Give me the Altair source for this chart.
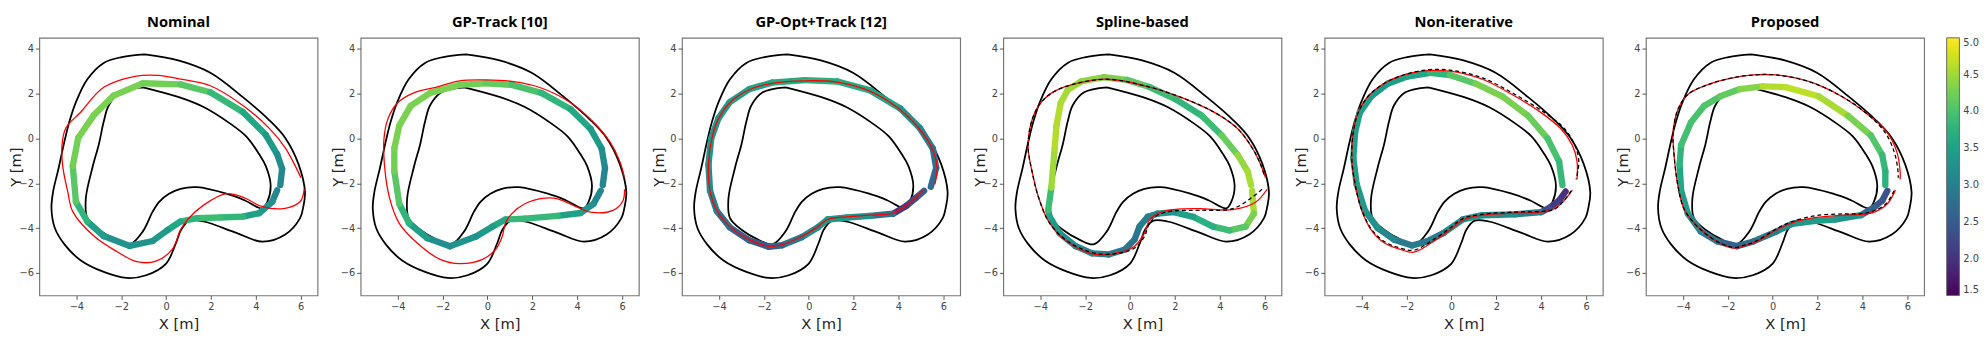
import altair as alt
import pandas as pd

TITLES = ["Nominal", "GP-Track [10]", "GP-Opt+Track [12]", "Spline-based", "Non-iterative", "Proposed"]

# ---- track boundaries (shared by all panels) ----
OUTER_X = [-0.95, 0.54, 1.97, 3.42, 4.59, 5.31, 5.90, 6.19, 6.11, 5.97, 5.31, 4.29, 3.13, 1.67, 1.02, 0.66, 0.44, -0.01, -0.89, -1.76, -2.78, -3.80, -4.53, -4.96, -5.11, -5.04, -4.79, -4.53, -4.31, -4.02, -3.51, -2.78, -1.97, -0.95]
OUTER_Y = [3.76, 3.49, 2.94, 1.85, 0.83, 0.03, -1.14, -2.39, -3.06, -3.55, -4.28, -4.60, -4.21, -3.70, -3.67, -4.08, -4.66, -5.59, -6.10, -6.22, -5.95, -5.44, -4.72, -3.99, -3.12, -2.39, -1.31, -0.12, 0.76, 1.63, 2.65, 3.38, 3.64, 3.76]
INNER_X = [-1.03, 0.57, 1.67, 2.84, 3.57, 4.15, 4.44, 4.66, 4.51, 4.29, 3.49, 2.69, 1.38, 0.64, 0.13, -0.31, -0.60, -1.03, -1.62, -2.26, -2.98, -3.51, -3.58, -3.28, -3.00, -2.78, -2.56, -2.05, -1.03]
INNER_Y = [2.29, 1.85, 1.41, 0.68, 0.10, -0.70, -1.22, -2.10, -2.82, -3.11, -2.75, -2.46, -2.17, -2.24, -2.46, -2.82, -3.26, -4.13, -4.72, -4.51, -4.08, -3.55, -2.68, -1.28, -0.26, 0.76, 1.48, 2.07, 2.29]

# ---- Nominal ----
P1_RED_X = [6.16, 5.97, 5.31, 4.29, 3.42, 2.69, 1.67, 0.95, 0.64, 0.28, -0.45, -1.32, -2.20, -3.22, -4.16, -4.38, -4.61, -4.64, -4.47, -3.80, -2.78, -1.32, -0.36, 0.51, 1.97, 3.42, 4.59, 5.31, 5.82, 6.01]
P1_RED_Y = [-2.24, -2.82, -3.11, -3.04, -2.61, -2.46, -2.97, -3.62, -4.08, -4.93, -5.47, -5.49, -5.04, -4.35, -3.26, -2.39, -1.22, -0.29, 0.47, 1.19, 2.29, 2.79, 2.82, 2.68, 2.36, 1.48, 0.47, -0.41, -1.35, -1.75]
P1_TRAJ_X = [4.95, 4.73, 4.15, 3.42, 2.40, 1.38, 0.64, 0.07, -0.60, -1.62, -2.78, -3.51, -4.02, -4.16, -3.92, -3.22, -2.34, -1.03, 0.64, 1.97, 3.42, 4.44, 4.95, 5.17, 5.09]
P1_TRAJ_Y = [-2.31, -2.82, -3.33, -3.48, -3.52, -3.55, -3.70, -4.08, -4.57, -4.79, -4.35, -3.70, -2.82, -1.22, 0.03, 1.05, 1.92, 2.47, 2.42, 2.07, 1.19, 0.17, -0.70, -1.35, -2.07]
P1_TRAJ_V = [3.1, 3.3, 3.5, 3.8, 3.9, 3.8, 3.6, 3.4, 3.3, 3.25, 3.45, 3.8, 4.1, 4.25, 4.3, 4.3, 4.3, 4.25, 4.1, 3.85, 3.6, 3.4, 3.2, 3.1, 3.05]

# ---- GP-Track [10] ----
P2_RED_X = [6.11, 6.04, 5.60, 4.59, 4.00, 3.13, 2.55, 1.67, 1.09, 0.80, 0.66, 0.36, -0.22, -1.24, -2.11, -3.13, -3.93, -4.37, -4.59, -4.61, -4.44, -4.00, -3.28, -2.26, -1.24, -0.07, 1.09, 2.40, 3.71, 4.73, 5.46, 5.90, 6.11]
P2_RED_Y = [-2.26, -2.77, -3.20, -3.28, -3.06, -2.69, -2.66, -2.91, -3.35, -3.78, -4.37, -4.95, -5.39, -5.58, -5.39, -4.66, -3.78, -2.62, -1.16, 0.0, 0.87, 1.60, 2.04, 2.30, 2.58, 2.62, 2.55, 2.26, 1.60, 0.73, -0.15, -1.02, -1.75]
P2_TRAJ_X = [5.05, 4.73, 4.15, 3.13, 1.67, 0.80, 0.22, -0.51, -1.67, -2.69, -3.49, -3.93, -4.15, -4.15, -3.93, -3.42, -2.55, -1.24, -0.07, 1.09, 2.40, 3.71, 4.59, 5.09, 5.24, 5.14]
P2_TRAJ_Y = [-2.33, -2.91, -3.32, -3.45, -3.57, -3.61, -3.93, -4.37, -4.80, -4.44, -3.78, -2.91, -1.46, -0.44, 0.58, 1.46, 2.04, 2.40, 2.47, 2.40, 2.04, 1.31, 0.44, -0.44, -1.31, -2.07]
P2_TRAJ_V = [3.1, 3.3, 3.5, 3.85, 3.85, 3.6, 3.4, 3.3, 3.2, 3.45, 3.8, 4.1, 4.25, 4.3, 4.3, 4.3, 4.3, 4.25, 4.15, 4.0, 3.8, 3.6, 3.4, 3.2, 3.1, 3.05]

# ---- GP-Opt+Track [12] ----
P3_RED_X = [5.07, 4.77, 4.34, 3.76, 2.74, 1.72, 0.84, 0.41, -0.32, -1.19, -1.78, -2.65, -3.52, -4.10, -4.40, -4.47, -4.32, -4.03, -3.52, -2.65, -1.63, -0.17, 1.28, 2.74, 4.05, 4.92, 5.50, 5.72, 5.62]
P3_RED_Y = [-2.30, -2.62, -2.98, -3.32, -3.42, -3.49, -3.61, -3.93, -4.37, -4.73, -4.80, -4.51, -3.93, -3.20, -2.33, -1.16, 0.0, 0.87, 1.60, 2.18, 2.47, 2.58, 2.52, 2.11, 1.31, 0.44, -0.44, -1.31, -2.04]
P3_TRAJ_X = [5.14, 4.77, 4.34, 3.76, 2.74, 1.72, 0.84, 0.41, -0.32, -1.19, -1.78, -2.65, -3.52, -4.10, -4.40, -4.47, -4.35, -4.03, -3.52, -2.65, -1.63, -0.17, 1.28, 2.74, 4.08, 4.95, 5.53, 5.68, 5.44]
P3_TRAJ_Y = [-2.33, -2.65, -3.01, -3.35, -3.45, -3.52, -3.61, -3.96, -4.40, -4.76, -4.83, -4.54, -3.96, -3.23, -2.33, -1.16, 0.0, 0.90, 1.63, 2.21, 2.50, 2.61, 2.55, 2.15, 1.34, 0.47, -0.44, -1.31, -2.15]
P3_TRAJ_V = [2.5, 2.3, 2.1, 2.8, 3.3, 3.4, 3.35, 3.2, 2.9, 2.6, 2.5, 2.6, 2.8, 3.0, 3.2, 3.3, 3.35, 3.4, 3.45, 3.55, 3.65, 3.7, 3.65, 3.55, 3.3, 3.0, 2.8, 2.7, 2.5]

# ---- Spline-based ----
P4_RED_X = [6.11, 5.59, 4.57, 3.11, 1.95, 1.22, 0.86, 0.64, 0.20, -0.52, -1.54, -2.71, -3.58, -4.08, -4.37, -4.54, -4.44, -4.08, -3.49, -2.62, -1.02, 0.87, 2.33, 3.78, 4.80, 5.46, 5.82, 6.04]
P4_RED_Y = [-2.26, -2.84, -3.17, -3.13, -3.17, -3.35, -3.64, -4.22, -4.80, -5.09, -5.17, -4.66, -3.78, -2.62, -1.46, -0.44, 0.58, 1.46, 2.04, 2.40, 2.65, 2.30, 1.82, 1.16, 0.44, -0.44, -1.16, -1.75]
P4_DASH_X = [5.88, 5.44, 4.57, 3.11, 1.95, 1.22, 0.86, 0.64, 0.20, -0.52, -1.54, -2.71, -3.58, -4.08, -4.37, -4.54, -4.44, -4.08, -3.49, -2.62, -1.02, 0.87, 2.33, 3.78, 4.80, 5.46, 5.82, 6.00]
P4_DASH_Y = [-2.26, -2.62, -3.13, -3.20, -3.23, -3.42, -3.78, -4.37, -4.88, -5.12, -5.12, -4.63, -3.78, -2.62, -1.46, -0.44, 0.58, 1.46, 2.04, 2.40, 2.65, 2.30, 1.82, 1.16, 0.44, -0.44, -1.16, -1.72]
P4_TRAJ_X = [5.44, 5.52, 5.15, 4.43, 3.70, 2.82, 1.95, 1.22, 0.79, 0.42, 0.20, -0.23, -0.96, -1.69, -2.42, -3.14, -3.58, -3.65, -3.51, -3.36, -3.28, -3.09, -2.77, -2.18, -1.16, -0.15, 0.87, 2.04, 3.20, 4.08, 4.80, 5.24, 5.39]
P4_TRAJ_Y = [-2.33, -3.35, -3.93, -4.10, -3.93, -3.49, -3.28, -3.35, -3.49, -3.93, -4.51, -4.95, -5.17, -5.12, -4.80, -4.22, -3.49, -3.20, -2.18, -0.44, 0.58, 1.60, 2.18, 2.55, 2.74, 2.62, 2.30, 1.75, 1.02, 0.15, -0.73, -1.46, -2.07]
P4_TRAJ_V = [4.55, 4.3, 4.1, 3.9, 3.7, 3.5, 3.3, 3.1, 3.0, 2.9, 2.85, 2.9, 3.0, 3.1, 3.2, 3.4, 3.6, 3.9, 4.5, 4.6, 4.6, 4.55, 4.5, 4.4, 4.3, 4.1, 3.9, 3.8, 3.9, 4.2, 4.45, 4.55, 4.6]

# ---- Non-iterative ----
P5_RED_X = [5.39, 5.02, 4.59, 4.00, 2.84, 1.38, 0.51, -0.07, -0.80, -1.67, -2.26, -2.98, -3.57, -4.00, -4.29, -4.44, -4.37, -4.15, -3.71, -2.98, -2.11, -1.09, -0.07, 1.38, 2.84, 4.00, 4.88, 5.39, 5.60, 5.60]
P5_RED_Y = [-2.30, -2.77, -3.13, -3.28, -3.32, -3.42, -3.64, -4.08, -4.59, -5.07, -4.95, -4.66, -4.08, -3.20, -2.04, -0.87, 0.29, 1.16, 1.89, 2.47, 2.84, 3.03, 3.01, 2.65, 1.89, 1.16, 0.44, -0.29, -1.02, -1.82]
P5_DASH_X = [5.34, 4.99, 4.56, 4.00, 2.84, 1.38, 0.51, -0.07, -0.80, -1.67, -2.26, -2.98, -3.57, -4.00, -4.29, -4.44, -4.37, -4.15, -3.71, -2.98, -2.11, -1.09, -0.07, 1.38, 2.84, 4.15, 5.02, 5.50, 5.68, 5.56]
P5_DASH_Y = [-2.33, -2.80, -3.17, -3.25, -3.28, -3.38, -3.57, -4.00, -4.51, -4.98, -4.89, -4.60, -4.03, -3.17, -2.04, -0.87, 0.29, 1.16, 1.89, 2.47, 2.85, 3.07, 3.06, 2.71, 1.97, 1.16, 0.47, -0.29, -1.02, -1.82]
P5_TRAJ_X = [5.09, 4.80, 4.37, 4.00, 2.84, 1.38, 0.51, -0.36, -1.09, -1.75, -2.55, -3.28, -3.86, -4.22, -4.37, -4.29, -4.08, -3.57, -2.84, -1.97, -0.95, -0.07, 1.09, 2.26, 3.42, 4.29, 4.80, 4.95]
P5_TRAJ_Y = [-2.36, -2.77, -3.09, -3.28, -3.38, -3.42, -3.61, -4.22, -4.59, -4.77, -4.51, -4.00, -3.20, -2.04, -0.87, 0.29, 1.16, 1.89, 2.45, 2.77, 2.94, 2.84, 2.45, 1.89, 1.02, 0.0, -1.02, -2.07]
P5_TRAJ_V = [2.0, 2.1, 2.3, 3.0, 3.2, 3.25, 3.2, 3.0, 2.9, 2.95, 3.1, 3.25, 3.4, 3.5, 3.5, 3.5, 3.45, 3.4, 3.45, 3.55, 3.8, 4.1, 4.3, 4.3, 4.2, 4.0, 3.85, 3.7]

# ---- Proposed ----
P6_RED_X = [5.47, 5.11, 4.53, 3.93, 3.07, 1.91, 0.87, 0.16, -0.71, -1.30, -1.73, -2.31, -3.19, -3.92, -4.21, -4.42, -4.44, -4.22, -3.78, -2.91, -1.89, -0.87, 0.15, 1.60, 3.06, 4.22, 5.09, 5.53, 5.68, 5.68]
P6_RED_Y = [-2.30, -2.91, -3.28, -3.38, -3.42, -3.52, -3.76, -4.08, -4.59, -4.80, -4.89, -4.69, -4.08, -3.20, -2.18, -0.44, 0.29, 1.31, 1.97, 2.40, 2.69, 2.84, 2.84, 2.55, 1.89, 1.09, 0.29, -0.58, -1.46, -1.82]
P6_DASH_X = [5.41, 5.05, 4.48, 3.93, 3.07, 1.91, 0.87, 0.16, -0.71, -1.30, -1.73, -2.31, -3.19, -3.92, -4.21, -4.42, -4.44, -4.22, -3.78, -2.91, -1.89, -0.87, 0.15, 1.60, 3.06, 4.22, 5.02, 5.41, 5.57, 5.60]
P6_DASH_Y = [-2.33, -2.91, -3.23, -3.35, -3.36, -3.44, -3.70, -4.03, -4.56, -4.77, -4.86, -4.68, -4.08, -3.20, -2.18, -0.44, 0.29, 1.31, 1.97, 2.40, 2.69, 2.84, 2.84, 2.55, 1.89, 1.09, 0.26, -0.58, -1.31, -1.75]
P6_TRAJ_X = [5.11, 4.88, 4.53, 3.93, 2.77, 1.91, 0.87, 0.16, -0.86, -1.59, -2.46, -3.20, -3.78, -4.08, -4.15, -4.08, -3.64, -3.06, -2.33, -1.46, -0.44, 0.58, 2.04, 3.35, 4.37, 4.88, 5.02, 5.02]
P6_TRAJ_Y = [-2.33, -2.77, -3.06, -3.42, -3.61, -3.67, -3.81, -4.15, -4.59, -4.80, -4.59, -4.15, -3.35, -2.33, -1.16, -0.29, 0.73, 1.46, 1.89, 2.21, 2.33, 2.30, 1.89, 1.02, 0.15, -0.73, -1.46, -2.07]
P6_TRAJ_V = [2.4, 2.45, 2.6, 3.3, 3.45, 3.4, 3.25, 2.95, 2.75, 2.6, 2.9, 3.15, 3.45, 3.6, 3.8, 3.95, 4.0, 4.05, 4.15, 4.35, 4.6, 4.65, 4.55, 4.3, 4.05, 3.85, 3.75, 3.7]

PANELS = [
    (P1_RED_X, P1_RED_Y, None, None, P1_TRAJ_X, P1_TRAJ_Y, P1_TRAJ_V),
    (P2_RED_X, P2_RED_Y, None, None, P2_TRAJ_X, P2_TRAJ_Y, P2_TRAJ_V),
    (P3_RED_X, P3_RED_Y, None, None, P3_TRAJ_X, P3_TRAJ_Y, P3_TRAJ_V),
    (P4_RED_X, P4_RED_Y, P4_DASH_X, P4_DASH_Y, P4_TRAJ_X, P4_TRAJ_Y, P4_TRAJ_V),
    (P5_RED_X, P5_RED_Y, P5_DASH_X, P5_DASH_Y, P5_TRAJ_X, P5_TRAJ_Y, P5_TRAJ_V),
    (P6_RED_X, P6_RED_Y, P6_DASH_X, P6_DASH_Y, P6_TRAJ_X, P6_TRAJ_Y, P6_TRAJ_V),
]

W, H = 284, 263
XS = alt.Scale(domain=[-5.65, 6.75], nice=False, zero=False)
YS = alt.Scale(domain=[-7.0, 4.5], nice=False, zero=False)
CS = alt.Scale(scheme="viridis", domain=[1.5, 5.0])

common_axis = dict(grid=False, domain=False, tickSize=4, tickColor="#555", labelFontSize=10,
                   labelColor="#444", labelFont="DejaVu Sans", labelPadding=2, format="d",
                   titleFont="DejaVu Sans", titleFontSize=15, titleFontWeight="normal",
                   titleColor="#222", titleBaseline="middle", titleAlign="center")
XAX = alt.Axis(values=[-4, -2, 0, 2, 4, 6], title="X [m]", titleX=W / 2, titleY=29, **common_axis)
YAX = alt.Axis(values=[-6, -4, -2, 0, 2, 4], title="Y [m]", titleAngle=270, titleX=-24, titleY=H / 2, **common_axis)

LEG = alt.Legend(title=None, orient="none", legendX=1947, legendY=0, direction="vertical",
                 gradientLength=H, gradientThickness=13, values=[1.5, 2.0, 2.5, 3.0, 3.5, 4.0, 4.5, 5.0],
                 format=".1f", labelFontSize=10, labelFont="DejaVu Sans", labelColor="#444",
                 labelOffset=4, gradientStrokeColor="#666", gradientStrokeWidth=1)


def xenc():
    return alt.X("x:Q", scale=XS, axis=XAX)


def yenc():
    return alt.Y("y:Q", scale=YS, axis=YAX)


def line_df(xs, ys, part="a"):
    return pd.DataFrame({"x": xs, "y": ys, "i": list(range(len(xs))), "part": part})


track_df = pd.concat([line_df(OUTER_X, OUTER_Y, "outer"), line_df(INNER_X, INNER_Y, "inner")])

charts = []
for k, (rx, ry, dx, dy, tx, ty, tv) in enumerate(PANELS):
    track = alt.Chart(track_df).mark_line(color="black", strokeWidth=1.8, interpolate="catmull-rom").encode(
        x=xenc(), y=yenc(), detail="part:N", order="i:Q")
    seg = pd.DataFrame({"x": tx[:-1], "y": ty[:-1], "x2": tx[1:], "y2": ty[1:], "v": tv[:-1]})
    traj = alt.Chart(seg).mark_rule(strokeWidth=6.5, strokeCap="round").encode(
        x=xenc(), y=yenc(), x2="x2:Q", y2="y2:Q", color=alt.Color("v:Q", scale=CS, legend=LEG))
    red = alt.Chart(line_df(rx, ry)).mark_line(color="#ff0000", strokeWidth=1.3, interpolate="catmull-rom").encode(
        x=xenc(), y=yenc(), order="i:Q")
    layers = [track, traj, red]
    if dx is not None:
        dash = alt.Chart(line_df(dx, dy)).mark_line(color="black", strokeWidth=1.3, strokeDash=[4, 3],
                                                   interpolate="catmull-rom").encode(
            x=xenc(), y=yenc(), order="i:Q")
        layers.append(dash)
    ch = alt.layer(*layers).properties(
        width=W, height=H,
        title=alt.TitleParams(TITLES[k], font="Open Sans", fontSize=15, fontWeight="bold", color="#000",
                              offset=8, anchor="middle"))
    charts.append(ch)

chart = alt.hconcat(*charts, spacing=11).properties(
    padding={"left": 0, "top": 3, "right": 0, "bottom": 0}
).configure_view(stroke="#777", strokeWidth=1.2)

chart.save("out.html", embed_options={"renderer": "svg", "actions": False})
